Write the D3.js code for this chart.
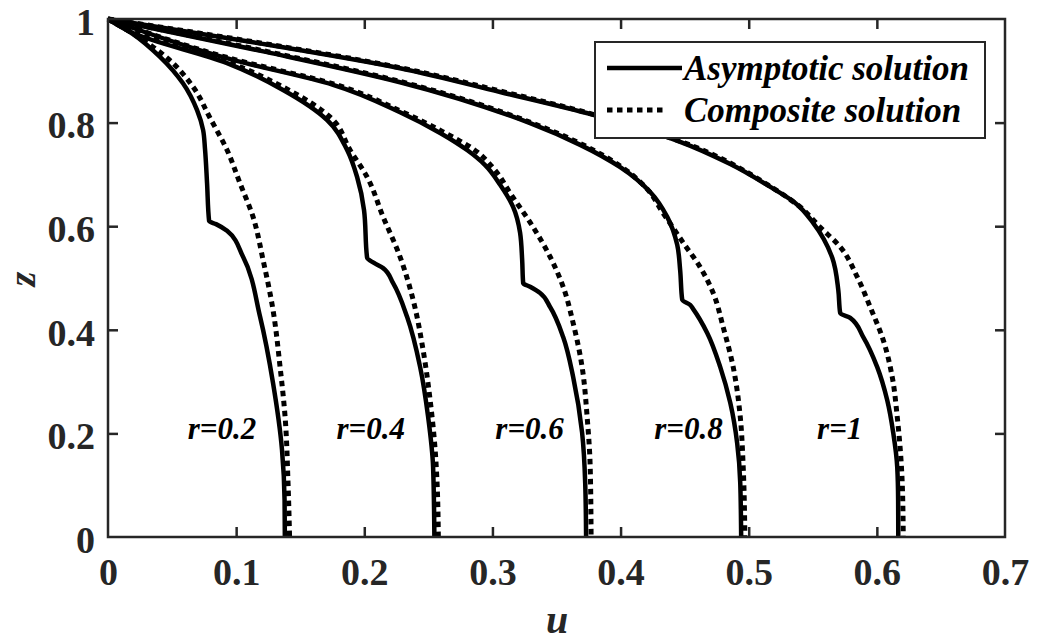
<!DOCTYPE html>
<html>
<head>
<meta charset="utf-8">
<script src="https://cdn.jsdelivr.net/npm/d3@7"></script>
<style>
    body { margin: 0; background: #fff; }
    svg { display: block; font-family: "Liberation Serif", "Times New Roman", serif; }
</style>
</head>
<body>
<div id="chart"></div>
<script>
//~~~~~~~~~~~~~~~~~~~~~~~~~~~~~~~~~~~~
// Data (u, z)
//~~~~~~~~~~~~~~~~~~~~~~~~~~~~~~~~~~~~
const rValues = [0.2, 0.4, 0.6, 0.8, 1];
const rLabels = ["r=0.2", "r=0.4", "r=0.6", "r=0.8", "r=1"];
const labelU = [0.089, 0.205, 0.329, 0.453, 0.571];
const labelZ = 0.19;

const xTicks = [0, 0.1, 0.2, 0.3, 0.4, 0.5, 0.6, 0.7];
const yTicks = [0, 0.2, 0.4, 0.6, 0.8, 1];

// asymptotic solution, one list of [u, z] per r
const asymptotic = [
    [[0, 1], [0.0195, 0.971], [0.0406, 0.927], [0.0585, 0.876], [0.0695, 0.824], [0.0742, 0.786],
     [0.0757, 0.749], [0.0773, 0.683], [0.0789, 0.610], [0.0843, 0.604], [0.0929, 0.591],
     [0.1054, 0.541], [0.1187, 0.425], [0.1288, 0.297], [0.1358, 0.168], [0.1378, 0.071], [0.1380, 0]],
    [[0, 1], [0.0195, 0.973], [0.0929, 0.915], [0.1366, 0.863], [0.1710, 0.805], [0.1866, 0.747],
     [0.1944, 0.695], [0.1998, 0.631], [0.2022, 0.539], [0.2076, 0.529], [0.2147, 0.519],
     [0.2225, 0.490], [0.2334, 0.425], [0.2436, 0.328], [0.2498, 0.232], [0.2537, 0.135], [0.2547, 0]],
    [[0, 1], [0.0976, 0.921], [0.1756, 0.873], [0.2279, 0.820], [0.2592, 0.780], [0.2802, 0.747],
     [0.2943, 0.718], [0.3060, 0.680], [0.3162, 0.637], [0.3216, 0.587], [0.3232, 0.535],
     [0.3240, 0.490], [0.3294, 0.483], [0.3372, 0.471], [0.3450, 0.444], [0.3552, 0.386],
     [0.3630, 0.309], [0.3700, 0.201], [0.3724, 0.104], [0.3731, 0]],
    [[0, 1], [0.1241, 0.936], [0.2279, 0.878], [0.3294, 0.799], [0.3685, 0.757], [0.3997, 0.714],
     [0.4231, 0.666], [0.4364, 0.618], [0.4442, 0.564], [0.4465, 0.515], [0.4481, 0.458],
     [0.4543, 0.448], [0.4567, 0.440], [0.4676, 0.394], [0.4778, 0.328], [0.4856, 0.259],
     [0.4910, 0.181], [0.4934, 0.104], [0.4941, 0]],
    [[0, 1], [0.1109, 0.956], [0.2279, 0.905], [0.3060, 0.859], [0.3786, 0.815], [0.4465, 0.763],
     [0.4856, 0.720], [0.5168, 0.676], [0.5363, 0.645], [0.5504, 0.606], [0.5652, 0.539],
     [0.5699, 0.477], [0.5714, 0.432], [0.5792, 0.423], [0.5894, 0.386], [0.6003, 0.328],
     [0.6081, 0.264], [0.6128, 0.201], [0.6159, 0.135], [0.6166, 0.071], [0.6167, 0]]
];

// composite solution
const composite = [
    [[0, 1], [0.0226, 0.967], [0.0461, 0.925], [0.0664, 0.869], [0.0796, 0.809], [0.0929, 0.747],
     [0.1030, 0.683], [0.1132, 0.618], [0.1210, 0.535], [0.1288, 0.438], [0.1343, 0.328],
     [0.1382, 0.232], [0.1405, 0.104], [0.1417, 0]],
    [[0, 1], [0.0230, 0.972], [0.0945, 0.916], [0.1395, 0.865], [0.1745, 0.808], [0.1889, 0.747],
     [0.2022, 0.695], [0.2147, 0.618], [0.2279, 0.541], [0.2381, 0.458], [0.2459, 0.361],
     [0.2514, 0.264], [0.2553, 0.168], [0.2568, 0.104], [0.2578, 0]],
    [[0, 1], [0.0985, 0.922], [0.1770, 0.874], [0.2295, 0.821], [0.2615, 0.782], [0.2850, 0.749],
     [0.3021, 0.708], [0.3138, 0.664], [0.3318, 0.598], [0.3450, 0.541], [0.3552, 0.483],
     [0.3630, 0.413], [0.3700, 0.328], [0.3739, 0.232], [0.3763, 0.135], [0.3770, 0]],
    [[0, 1], [0.1245, 0.937], [0.2287, 0.879], [0.3302, 0.800], [0.4005, 0.715], [0.4192, 0.676],
     [0.4333, 0.625], [0.4489, 0.568], [0.4621, 0.521], [0.4723, 0.471], [0.4801, 0.405],
     [0.4879, 0.328], [0.4934, 0.232], [0.4957, 0.135], [0.4970, 0]],
    [[0, 1], [0.1109, 0.957], [0.2279, 0.906], [0.3060, 0.861], [0.3786, 0.816], [0.4465, 0.764],
     [0.5168, 0.677], [0.5402, 0.637], [0.5558, 0.598], [0.5714, 0.560], [0.5847, 0.502],
     [0.5948, 0.444], [0.6050, 0.380], [0.6120, 0.309], [0.6159, 0.232], [0.6183, 0.168],
     [0.6198, 0.104], [0.6206, 0]]
];

//~~~~~~~~~~~~~~~~~~~~~~~~~~~~~~~~~~~~
// Chart
//~~~~~~~~~~~~~~~~~~~~~~~~~~~~~~~~~~~~
function drawChart() {
    const width = 1039;
    const height = 641;
    const margin = {top: 19, right: 34, bottom: 104, left: 108};
    const axisColor = "#262626";

    const svg = d3.select("#chart")
        .append("svg")
        .attr("width", width)
        .attr("height", height);

    const x = d3.scaleLinear()
        .domain([0, 0.7])
        .range([margin.left, width - margin.right]);

    const y = d3.scaleLinear()
        .domain([0, 1])
        .range([height - margin.bottom, margin.top]);

    const line = d3.line()
        .x(d => x(d[0]))
        .y(d => y(d[1]))
        .curve(d3.curveMonotoneY);

    // curves
    const curves = svg.append("g").attr("fill", "none").attr("stroke", "#000");

    curves.selectAll(".composite")
        .data(composite)
        .join("path")
        .attr("class", "composite")
        .attr("d", line)
        .attr("stroke-width", 5)
        .attr("stroke-dasharray", "5.5,4.5");

    curves.selectAll(".asymptotic")
        .data(asymptotic)
        .join("path")
        .attr("class", "asymptotic")
        .attr("d", line)
        .attr("stroke-width", 4.5)
        .attr("stroke-linejoin", "round");

    // r labels
    svg.append("g")
        .selectAll("text")
        .data(rLabels)
        .join("text")
        .attr("x", (d, i) => x(labelU[i]))
        .attr("y", y(labelZ))
        .attr("text-anchor", "middle")
        .attr("font-size", 31)
        .attr("font-weight", "bold")
        .attr("font-style", "italic")
        .text(d => d);

    // axes, matlab style: inward ticks on all four sides
    const tickLen = 10;
    const xBottom = d3.axisBottom(x).tickValues(xTicks).tickSizeInner(-tickLen).tickSizeOuter(0)
        .tickPadding(21).tickFormat(d3.format("~g"));
    const xTop = d3.axisTop(x).tickValues(xTicks).tickSizeInner(-tickLen).tickSizeOuter(0).tickFormat("");
    const yLeft = d3.axisLeft(y).tickValues(yTicks).tickSizeInner(-tickLen).tickSizeOuter(0)
        .tickPadding(13).tickFormat(d3.format("~g"));
    const yRight = d3.axisRight(y).tickValues(yTicks).tickSizeInner(-tickLen).tickSizeOuter(0).tickFormat("");

    const gx = svg.append("g").attr("transform", `translate(0,${height - margin.bottom})`).call(xBottom);
    const gxt = svg.append("g").attr("transform", `translate(0,${margin.top})`).call(xTop);
    const gy = svg.append("g").attr("transform", `translate(${margin.left},0)`).call(yLeft);
    const gyr = svg.append("g").attr("transform", `translate(${width - margin.right},0)`).call(yRight);

    [gx, gxt, gy, gyr].forEach(g => {
        g.select(".domain").remove();
        g.selectAll(".tick line").attr("stroke", axisColor).attr("stroke-width", 2.5);
        g.selectAll(".tick text")
            .attr("fill", axisColor)
            .attr("font-family", "Liberation Serif, Times New Roman, serif")
            .attr("font-size", 38)
            .attr("font-weight", "bold");
    });
    gx.selectAll(".tick").filter(d => d === 0 || d === 0.7).select("line").remove();
    gxt.selectAll(".tick").filter(d => d === 0 || d === 0.7).select("line").remove();
    gy.selectAll(".tick").filter(d => d === 0 || d === 1).select("line").remove();
    gyr.selectAll(".tick").filter(d => d === 0 || d === 1).select("line").remove();
    gy.selectAll(".tick text").attr("dy", "0.4em");

    // frame
    svg.append("rect")
        .attr("x", margin.left)
        .attr("y", margin.top)
        .attr("width", width - margin.left - margin.right)
        .attr("height", height - margin.top - margin.bottom)
        .attr("fill", "none")
        .attr("stroke", axisColor)
        .attr("stroke-width", 2.5);

    // axis labels
    svg.append("text")
        .attr("x", 557)
        .attr("y", 633)
        .attr("text-anchor", "middle")
        .attr("font-size", 40)
        .attr("font-weight", "bold")
        .attr("font-style", "italic")
        .attr("fill", axisColor)
        .text("u");

    svg.append("text")
        .attr("transform", `translate(35,279) rotate(-90)`)
        .attr("text-anchor", "middle")
        .attr("font-size", 38)
        .attr("font-weight", "bold")
        .attr("font-style", "italic")
        .attr("fill", axisColor)
        .text("z");

    // legend
    const legend = svg.append("g").attr("transform", "translate(595,42)");
    legend.append("rect")
        .attr("width", 390)
        .attr("height", 96)
        .attr("fill", "#fff")
        .attr("stroke", axisColor)
        .attr("stroke-width", 2);

    const legendItems = [
        {name: "Asymptotic solution", dash: null, w: 4.5},
        {name: "Composite solution", dash: "5.5,4.5", w: 5}
    ];
    const item = legend.selectAll(".item")
        .data(legendItems)
        .join("g")
        .attr("transform", (d, i) => `translate(0,${26 + i * 42})`);

    item.append("line")
        .attr("x1", 12)
        .attr("x2", d => d.dash ? 72 : 87)
        .attr("stroke", "#000")
        .attr("stroke-width", d => d.w)
        .attr("stroke-dasharray", d => d.dash);

    item.append("text")
        .attr("x", 89)
        .attr("dy", "0.33em")
        .attr("font-size", 35)
        .attr("font-weight", "bold")
        .attr("font-style", "italic")
        .text(d => d.name);
}

document.addEventListener('DOMContentLoaded', () => {
    drawChart();
});
</script>
</body>
</html>
